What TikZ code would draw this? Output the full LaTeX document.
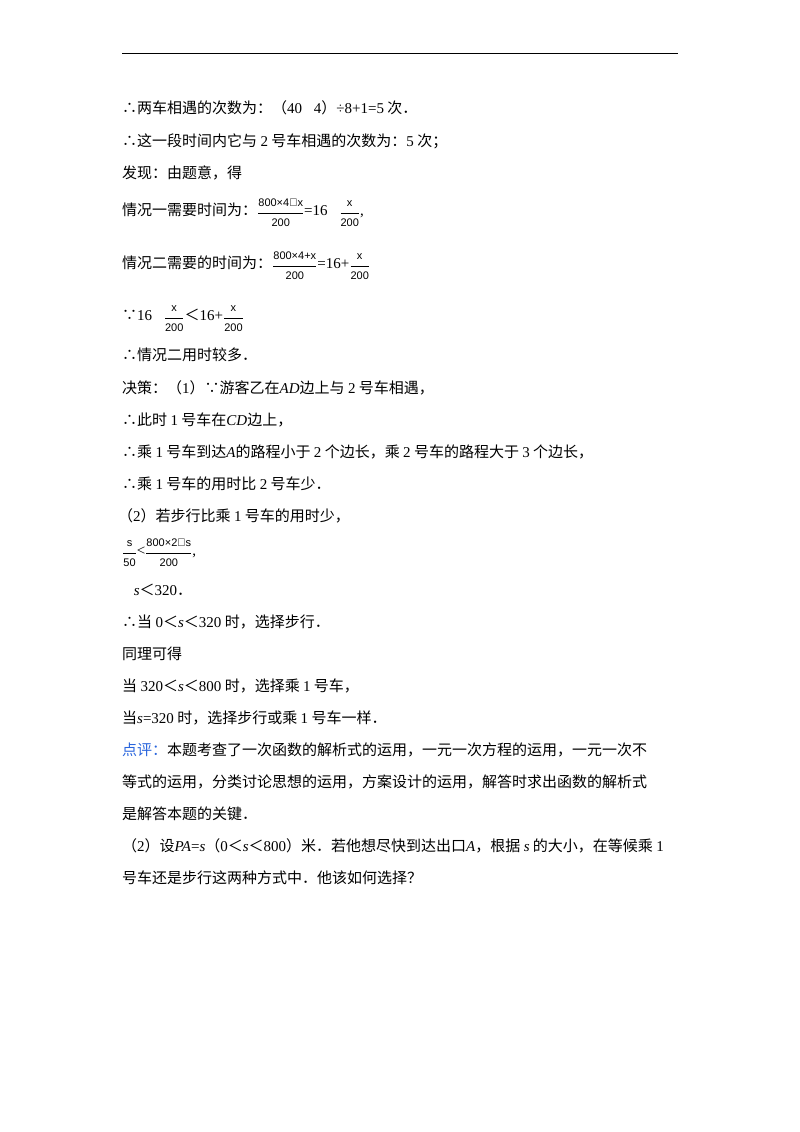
\documentclass[tikz,border=0pt]{standalone}
\usepackage{amsmath}
\usepackage{fontspec}
\setmainfont{Noto Sans CJK SC}
\newfontfamily\en{Liberation Serif}
\newfontfamily\fr{Liberation Sans}
\newcommand{\n}[1]{{\en #1}}
\newcommand{\vi}[1]{{\en\itshape #1}}
\newcommand{\fracx}[2]{\raisebox{-0.2ex}{$\dfrac{\mbox{\fr\fontsize{11}{12}\selectfont #1}}{\mbox{\fr\fontsize{11}{12}\selectfont #2}}$}}
\begin{document}
\begin{tikzpicture}[x=1pt,y=-1pt,
  ln/.style={anchor=base west,inner sep=0pt,font=\fontsize{15}{18}\selectfont}]
\useasboundingbox (0,0) rectangle (800,1132);
\draw[line width=0.8pt] (122,53) -- (678,53);
\node[ln] (l1) at (122,113) {∴两车相遇的次数为：（\n{40﹣4}）\n{÷8+1=5} 次．};
\node[ln] (l2) at (122,146) {∴这一段时间内它与 \n{2} 号车相遇的次数为：\n{5} 次；};
\node[ln] (l3) at (122,178) {发现：由题意，得};
\node[ln] (l4) at (122,215) {情况一需要时间为：\fracx{800×4－x}{200}\n{=16﹣}\fracx{x}{200}\n{,}};
\node[ln] (l5) at (122,268) {情况二需要的时间为：\fracx{800×4+x}{200}\n{=16+}\fracx{x}{200}};
\node[ln] (l6) at (122,320) {∵\n{16﹣}\fracx{x}{200}＜\n{16+}\fracx{x}{200}};
\node[ln] (l7) at (122,360) {∴情况二用时较多．};
\node[ln] (l8) at (122,393) {决策：（\n{1}）∵游客乙在\vi{AD}边上与 \n{2} 号车相遇，};
\node[ln] (l9) at (122,425) {∴此时 \n{1} 号车在\vi{CD}边上，};
\node[ln] (l10) at (122,457) {∴乘 \n{1} 号车到达\vi{A}的路程小于 \n{2} 个边长，乘 \n{2} 号车的路程大于 \n{3} 个边长，};
\node[ln] (l11) at (122,489) {∴乘 \n{1} 号车的用时比 \n{2} 号车少．};
\node[ln] (l12) at (118,521) {（\n{2}）若步行比乘 \n{1} 号车的用时少，};
\node[ln] (l13) at (122,555) {\fracx{s}{50}\n{<}\fracx{800×2－s}{200}\n{,}};
\node[ln] (l14) at (122,595) {\n{∴}\vi{s}＜\n{320}．};
\node[ln] (l15) at (122,627) {∴当 \n{0}＜\vi{s}＜\n{320} 时，选择步行．};
\node[ln] (l16) at (122,659) {同理可得};
\node[ln] (l17) at (122,691) {当 \n{320}＜\vi{s}＜\n{800} 时，选择乘 \n{1} 号车，};
\node[ln] (l18) at (122,723) {当\vi{s}\n{=320} 时，选择步行或乘 \n{1} 号车一样．};
\node[ln] (l19) at (122,755) {\textcolor[RGB]{40,100,220}{点评：}本题考查了一次函数的解析式的运用，一元一次方程的运用，一元一次不};
\node[ln] (l20) at (122,787) {等式的运用，分类讨论思想的运用，方案设计的运用，解答时求出函数的解析式};
\node[ln] (l21) at (122,819) {是解答本题的关键．};
\node[ln] (l22) at (122,851) {（\n{2}）设\vi{PA}\n{=}\vi{s}（\n{0}＜\vi{s}＜\n{800}）米．若他想尽快到达出口\vi{A}，根据 \vi{s} 的大小，在等候乘 \n{1}};
\node[ln] (l23) at (122,883) {号车还是步行这两种方式中．他该如何选择？};
\end{tikzpicture}
\end{document}
